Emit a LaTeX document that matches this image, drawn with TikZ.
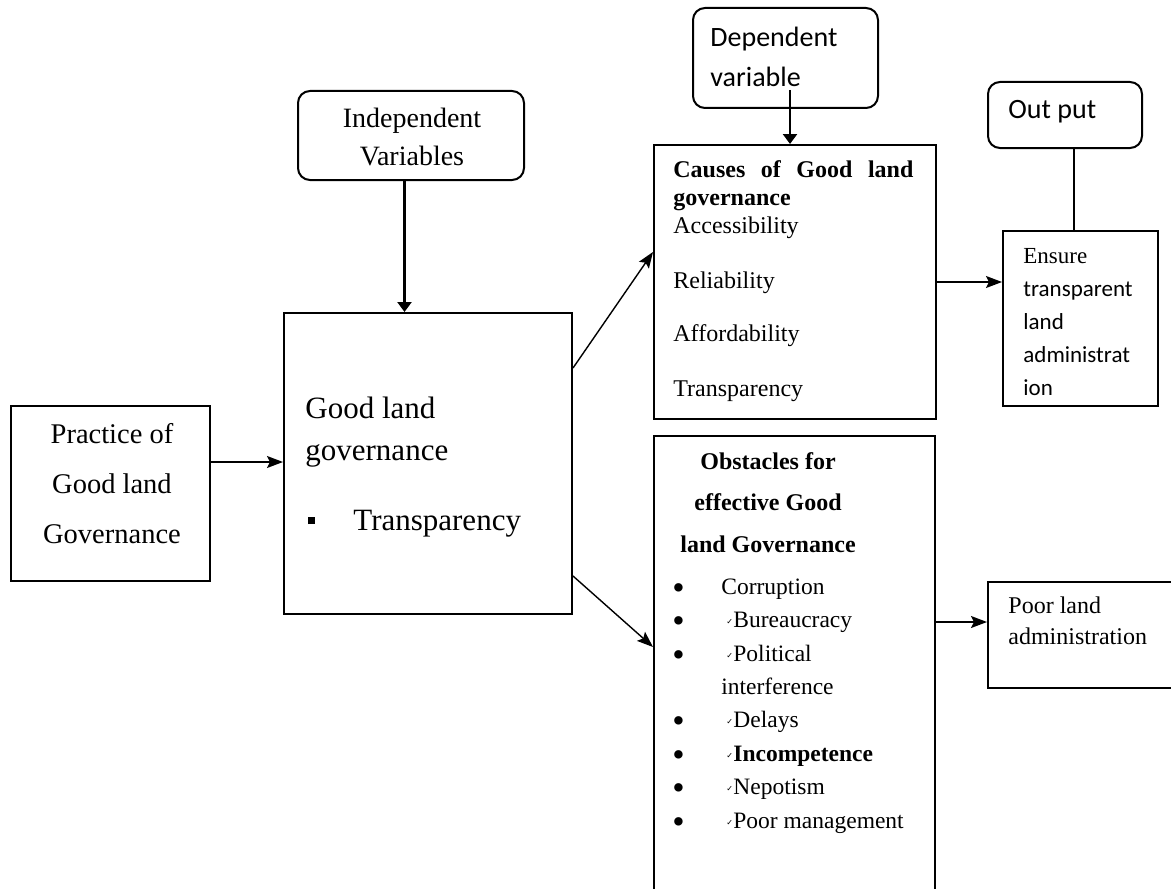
\documentclass[tikz,border=0pt]{standalone}
\usepackage{fontspec}
\usepackage{graphicx}
\setmainfont{Liberation Serif}
\newfontfamily\calibri{Carlito}
\newfontfamily\symfont{DejaVu Sans}
\usetikzlibrary{arrows.meta,calc}
\tikzset{frame/.style={rectangle,draw=black,line width=1pt,inner sep=0pt,anchor=north west},
roundframe/.style={frame,rounded corners=6pt},
txt/.style={inner sep=0pt,align=left},
flow/.style={-{Stealth[length=8pt,width=6pt,inset=1.5pt]},line width=0.7pt},
heavy/.style={-{Triangle[length=5pt,width=7pt]},line width=1.2pt}}
\newcommand{\tickmark}{\makebox[3.5pt][l]{\raisebox{1.5pt}{\symfont\fontsize{4}{4}\selectfont ✓}}}
\newcommand{\bul}{\makebox[24.5pt][l]{\raisebox{-2.5pt}{\scalebox{1.5}{\textbullet}}}}

\begin{document}
\begin{tikzpicture}[x=0.5pt,y=-0.5pt]
    \useasboundingbox (0,0) rectangle (1171,888);

    % boxes
    \node (practice) [frame, minimum width=99.5pt, minimum height=87.5pt] at (10,405) {};
    \node (goodland) [frame, minimum width=144pt, minimum height=150.5pt] at (283,312) {};
    \node (indep) [roundframe, minimum width=113pt, minimum height=44.5pt] at (297,90) {};
    \node (dep) [roundframe, minimum width=92.5pt, minimum height=50pt] at (692,7) {};
    \node (outp) [roundframe, minimum width=77pt, minimum height=33pt] at (987,81) {};
    \node (causes) [frame, minimum width=141pt, minimum height=137pt] at (653,144) {};
    \node (obst) [frame, minimum width=140.5pt, minimum height=230pt] at (653,435) {};
    \node (ensure) [frame, minimum width=77.5pt, minimum height=87.5pt] at (1002,230) {};
    \node (poor) [frame, minimum width=99pt, minimum height=53pt] at (987,581) {};

    % texts (placed by the baseline of their last line)
    \node (practice_txt) [txt, align=center, anchor=base, font=\fontsize{14.25}{25}\selectfont] at (112,543)
        {Practice of\\Good land\\Governance};
    \node (goodland_txt) [txt, anchor=base west, font=\fontsize{15.5}{21}\selectfont] at (305,530)
        {Good land\\governance\\[14pt]\hspace{1.5pt}\raisebox{3pt}{\rule{3.5pt}{3.5pt}}\hspace{19pt}Transparency};
    \node (indep_txt) [txt, align=center, anchor=base, font=\fontsize{14}{19}\selectfont] at (412,165)
        {Independent\\Variables};
    \node (dep_txt) [txt, anchor=base west, font=\calibri\fontsize{14}{20}\selectfont] at (710,87)
        {Dependent\\variable};
    \node (outp_txt) [txt, anchor=base west, font=\calibri\fontsize{14}{20}\selectfont] at (1008,119) {Out put};
    % justified block: placed by its first line
    \node (causes_txt) [txt, align=justify, text width=120pt, anchor=base west, font=\fontsize{12}{14}\selectfont] at (673,177)
        {\textbf{Causes of Good land governance}\\Accessibility\\[13.5pt]Reliability\\[12.5pt]Affordability\\[13.5pt]Transparency};
    \node (ensure_txt) [txt, anchor=base west, font=\fontsize{11.5}{16.5}\selectfont] at (1023,395)
        {Ensure\\{\calibri transparent}\\{\calibri land}\\{\calibri administrat}\\{\calibri ion}};
    \node (obst_head) [txt, align=center, anchor=base, font=\bfseries\fontsize{12}{20.75}\selectfont] at (768,552)
        {Obstacles for\\effective Good\\land Governance};
    \node (obst_list) [txt, anchor=base west, font=\fontsize{11.75}{16.7}\selectfont] at (672,828)
        {\bul Corruption\\
         \bul\hspace{2.5pt}\tickmark Bureaucracy\\
         \bul\hspace{2.5pt}\tickmark Political\\
         \hspace{24.5pt}interference\\
         \bul\hspace{2.5pt}\tickmark Delays\\
         \bul\hspace{2.5pt}\tickmark\textbf{Incompetence}\\
         \bul\hspace{2.5pt}\tickmark Nepotism\\
         \bul\hspace{2.5pt}\tickmark Poor management};
    \node (poor_txt) [txt, anchor=base west, font=\fontsize{12}{15.5}\selectfont] at (1008,644)
        {Poor land\\administration};

    % connectors
    \draw [heavy] ([xshift=-3.25pt]indep.south) -- ([xshift=-3.25pt]indep.south |- goodland.north);
    \draw [heavy] ([xshift=2.25pt,yshift=9.5pt]dep.south) -- ([xshift=2.25pt]dep.south |- causes.north);
    \draw [line width=1.3pt] ([xshift=4.5pt]outp.south) -- ([xshift=4.5pt]outp.south |- ensure.north);
    \draw [flow] ([yshift=15.75pt]practice.east) -- ([yshift=15.75pt]practice.east -| goodland.west);
    \draw [flow] ([yshift=-28pt]goodland.north east) -- ([yshift=-54pt]causes.north west);
    \draw [flow] ([yshift=19.5pt]goodland.south east) -- ([yshift=-106pt]obst.north west);
    \draw [flow] (causes.east) -- (causes.east -| ensure.west);
    \draw [flow] ([yshift=6.5pt]poor.west -| obst.east) -- ([yshift=6.5pt]poor.west);
\end{tikzpicture}
\end{document}
